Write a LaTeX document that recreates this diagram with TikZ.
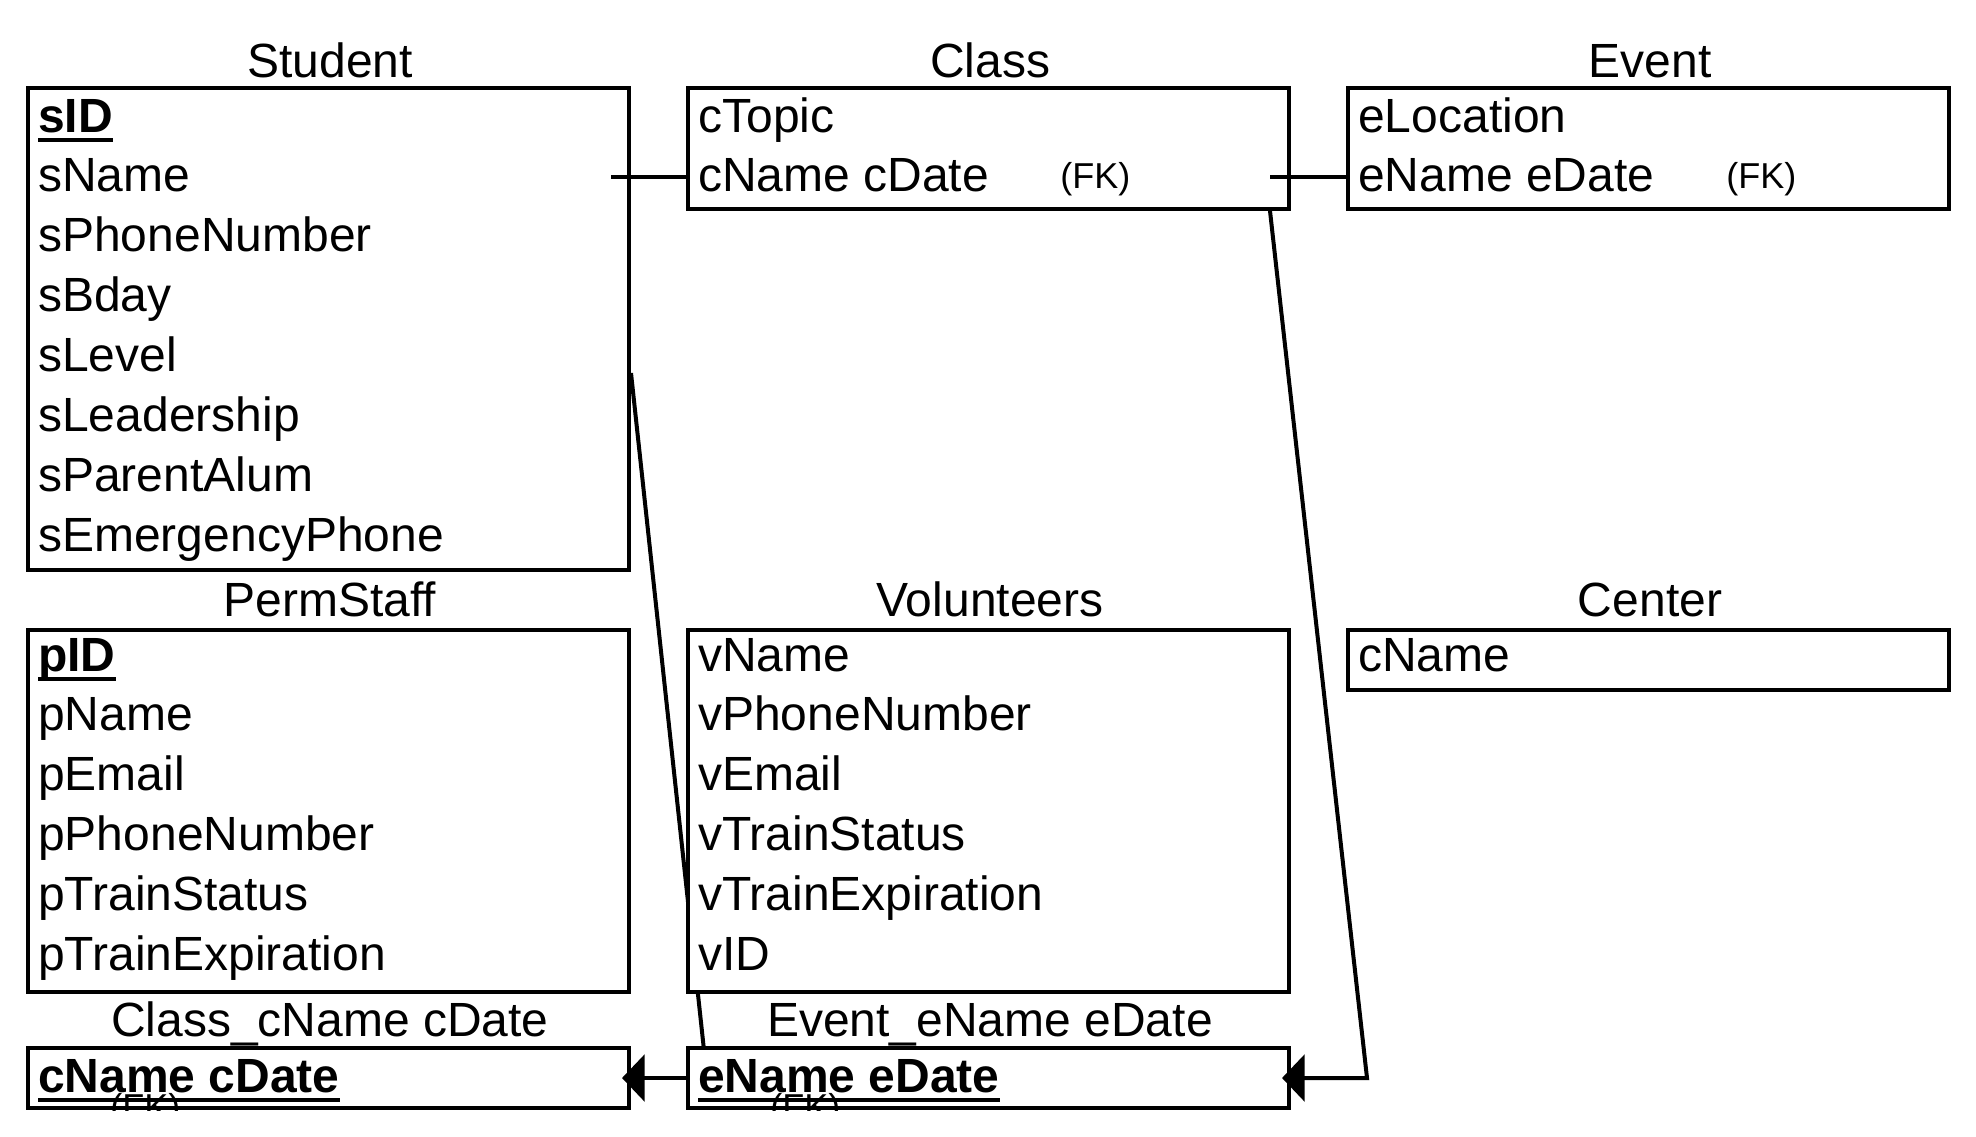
\documentclass[tikz,border=0pt]{standalone}
\usepackage{fontspec}
\setmainfont{Liberation Sans}
\usetikzlibrary{arrows.meta,backgrounds}

\tikzset{
  tbl/.style={draw,line width=3pt,fill=white,minimum width=450.75pt,inner sep=0pt},
  attr/.style={anchor=base west,inner sep=0pt,font=\fontsize{36pt}{43pt}\selectfont},
  ttl/.style={anchor=base,inner sep=0pt,font=\fontsize{36pt}{43pt}\selectfont},
  fk/.style={anchor=base west,inner sep=0pt,font=\fontsize{27pt}{32pt}\selectfont},
  link/.style={line width=3pt},
  fkarrow/.style={-{Triangle[length=17pt,width=35pt]},shorten >=-6.75pt}
}
% bold key with a thick underline
\newcommand{\pkey}[1]{\setbox0\hbox{\bfseries #1}\rlap{\rule[-0.21em]{\wd0}{0.08em}}\box0}

\begin{document}
\begin{tikzpicture}[x=0.75pt,y=0.75pt,yscale=-1,xscale=1]
\useasboundingbox (0,0) rectangle (1976,1136);

%Shape: Rectangle [Student]
\node[tbl,minimum height=361.5pt] (student) at (328.5,329) {};
%Shape: Rectangle [Class]
\node[tbl,minimum height=90.75pt] (class) at (988.5,148.5) {};
%Shape: Rectangle [Event]
\node[tbl,minimum height=90.75pt] (event) at (1648.5,148.5) {};
%Shape: Rectangle [PermStaff]
\node[tbl,minimum height=271.5pt] (perm) at (328.5,811) {};
%Shape: Rectangle [Volunteers]
\node[tbl,minimum height=271.5pt] (vol) at (988.5,811) {};
%Shape: Rectangle [Center]
\node[tbl,minimum height=45pt] (center) at (1648.5,660) {};
%Shape: Rectangle [Class_cName cDate]
\node[tbl,minimum height=45pt] (classkey) at (328.5,1078) {};
%Shape: Rectangle [Event_eName eDate]
\node[tbl,minimum height=45pt] (evkey) at (988.5,1078) {};

% Titles
\draw (330,77) node[ttl] (tstudent) {Student};
\draw (990,77) node[ttl] (tclass) {Class};
\draw (1650,77) node[ttl] (tevent) {Event};
\draw (330,616) node[ttl] (tperm) {PermStaff};
\draw (990,616) node[ttl] (tvol) {Volunteers};
\draw (1650,616) node[ttl] (tcenter) {Center};
\draw (330,1036) node[ttl] (tclasskey) {Class\_cName cDate};
\draw (990,1036) node[ttl] (tevkey) {Event\_eName eDate};

% Text Node: Student
\draw (38,132) node[attr] (s1) {\pkey{sID}};
\draw (38,191.9) node[attr] (s2) {sName};
\draw (38,251.8) node[attr] (s3) {sPhoneNumber};
\draw (38,311.7) node[attr] (s4) {sBday};
\draw (38,371.6) node[attr] (s5) {sLevel};
\draw (38,431.5) node[attr] (s6) {sLeadership};
\draw (38,491.4) node[attr] (s7) {sParentAlum};
\draw (38,551.3) node[attr] (s8) {sEmergencyPhone};
% Text Node: Class
\draw (698,132) node[attr] (c1) {cTopic};
\draw (698,191.9) node[attr] (c2) {cName cDate};
\draw (1060,188) node[fk] (cfk) {(FK)};
% Text Node: Event
\draw (1358,132) node[attr] (e1) {eLocation};
\draw (1358,191.9) node[attr] (e2) {eName eDate};
\draw (1726,188) node[fk] (efk) {(FK)};
% Text Node: PermStaff
\draw (38,671) node[attr] (p1) {\pkey{pID}};
\draw (38,730.9) node[attr] (p2) {pName};
\draw (38,790.8) node[attr] (p3) {pEmail};
\draw (38,850.7) node[attr] (p4) {pPhoneNumber};
\draw (38,910.6) node[attr] (p5) {pTrainStatus};
\draw (38,970.5) node[attr] (p6) {pTrainExpiration};
% Text Node: Volunteers
\draw (698,671) node[attr] (v1) {vName};
\draw (698,730.9) node[attr] (v2) {vPhoneNumber};
\draw (698,790.8) node[attr] (v3) {vEmail};
\draw (698,850.7) node[attr] (v4) {vTrainStatus};
\draw (698,910.6) node[attr] (v5) {vTrainExpiration};
\draw (698,970.5) node[attr] (v6) {vID};
% Text Node: Center
\draw (1358,671) node[attr] (n1) {cName};
% Text Node: keys
\draw (38,1092) node[attr] (k1) {\pkey{cName cDate}};
\draw (698,1092) node[attr] (k2) {\pkey{eName eDate}};
\begin{scope}
\clip (classkey.north west) rectangle (classkey.south east);
\draw (110,1119) node[fk] (kfk1) {(FK)};
\end{scope}
\begin{scope}
\clip (evkey.north west) rectangle (evkey.south east);
\draw (770,1119) node[fk] (kfk2) {(FK)};
\end{scope}

% Connectors
\coordinate (stub1) at (611,177);
\coordinate (stub2) at (1270,177);
\coordinate (sleft) at (0,373);
\coordinate (lbend) at (707,1078);
\coordinate (rbend) at (1367,1078);
\draw[link] (stub1) -- (stub1 -| class.west);
\draw[link] (stub2) -- (stub2 -| event.west);
\begin{scope}[on background layer]
\draw[link] (student.east |- sleft) -- (lbend);
\end{scope}
\draw[link,fkarrow] (evkey.west) -- (classkey.east);
\draw[link,fkarrow] (stub2 |- class.south) -- (rbend) -- (evkey.east);

\end{tikzpicture}
\end{document}
